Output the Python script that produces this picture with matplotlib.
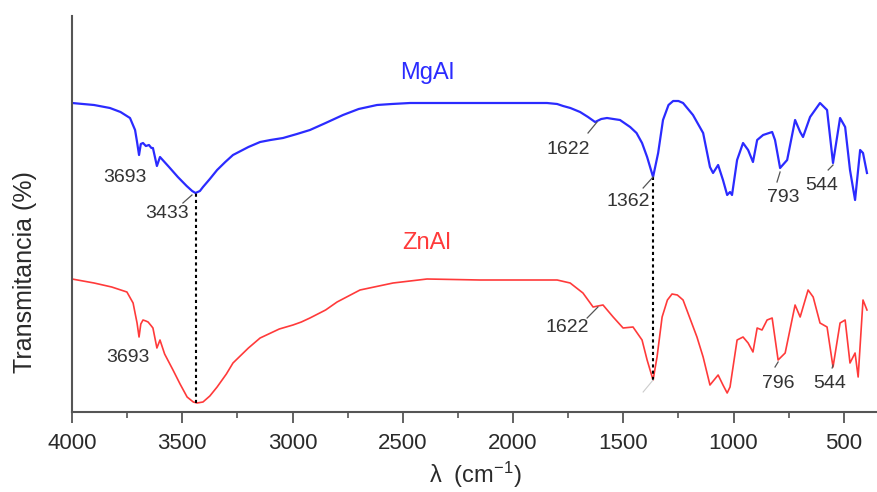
import matplotlib
matplotlib.use("Agg")
import matplotlib.pyplot as plt

plt.rcParams['font.family'] = ['Liberation Sans', 'DejaVu Sans']
plt.rcParams['mathtext.default'] = 'regular'

# ---- data (wavenumber cm-1, transmittance arbitrary units) ----
mg_w = [4000, 3900, 3828, 3780, 3737, 3714, 3705, 3696, 3688, 3678, 3665, 3651, 3640, 3633, 3615,
        3601, 3560, 3520, 3480, 3455, 3440, 3420, 3406, 3375, 3342, 3305, 3270, 3200, 3147, 3100,
        3043, 2980, 2921, 2850, 2771, 2700, 2617, 2550, 2467, 2300, 2150, 2000, 1846, 1800, 1773,
        1740, 1696, 1660, 1628, 1600, 1574, 1545, 1515, 1469, 1440, 1415, 1392, 1365, 1342, 1320,
        1295, 1274, 1250, 1229, 1184, 1138, 1107, 1093, 1070, 1048, 1029, 1016, 1007, 984, 957,
        934, 912, 893, 866, 825, 812, 789, 757, 721, 698, 685, 653, 608, 576, 549, 517, 494, 472,
        449, 426, 413, 395]
mg_t = [309, 307, 304, 300, 294, 282, 270, 257, 268, 269, 266, 267, 264, 264, 246,
        255, 245, 235, 226, 221, 219, 221, 225, 233, 242, 250, 257, 265, 270, 272,
        274, 278, 282, 289, 297, 303, 307, 308, 309, 309, 309, 309, 309, 308, 306,
        304, 300, 295, 290, 293, 294, 293, 292, 285, 279, 269, 255, 235, 259, 292,
        307, 311, 311, 309, 297, 279, 245, 239, 247, 232, 217, 220, 217, 252, 269,
        262, 250, 272, 277, 280, 272, 244, 252, 292, 280, 275, 295, 309, 302, 249, 294, 285, 242,
        212, 262, 259, 239]

zn_w = [4000, 3900, 3820, 3751, 3723, 3705, 3696, 3688, 3678, 3665, 3655, 3640, 3633, 3615,
        3601, 3580, 3542, 3510, 3478, 3450, 3433, 3406, 3375, 3342, 3300, 3270, 3200, 3147, 3060,
        2998, 2960, 2921, 2850, 2798, 2694, 2544, 2390, 2150, 2000, 1800, 1741, 1683, 1637, 1615,
        1592, 1546, 1501, 1456, 1415, 1392, 1365, 1347, 1324, 1300, 1279, 1255, 1229, 1166, 1138,
        1107, 1070, 1048, 1029, 1016, 984, 957, 934, 912, 893, 871, 848, 825, 798, 766, 721, 698,
        662, 639, 608, 576, 549, 517, 494, 472, 449, 435, 413, 395]
zn_t = [133, 129, 125, 120, 109, 89, 75, 88, 92, 91, 90, 86, 84, 64,
        72, 58, 42, 28, 15, 10, 9, 10, 16, 25, 38, 49, 64, 74, 83,
        87, 90, 94, 102, 110, 122, 129, 133, 132, 132, 132, 129, 119, 105, 106,
        107, 95, 84, 85, 72, 52, 32, 55, 95, 112, 118, 117, 112, 75, 55,
        27, 37, 27, 19, 25, 72, 75, 69, 60, 84, 82, 92, 94, 52, 59, 107, 95,
        122, 115, 89, 85, 45, 89, 92, 49, 59, 35, 112, 102]

xticks = [4000, 3500, 3000, 2500, 2000, 1500, 1000, 500]
minor_ticks = [3750, 3250, 2750, 2250, 1750, 1250, 750]

# annotations: (text, text_x, text_y, leader_start, leader_end)
mg_labels = [("3693", 3760, 234, None, None),
             ("3433", 3569, 198, (3497, 209), (3456, 217)),
             ("1622", 1751, 263, (1660, 279), (1619, 290)),
             ("1362", 1478, 210, (1410, 224), (1365, 235)),
             ("793", 776, 215, (803, 230), (789, 240)),
             ("544", 599, 226, (571, 242), (549, 247))]
zn_labels = [("3693", 3746, 55, None, None),
             ("1622", 1755, 84, (1664, 94), (1615, 105)),
             ("796", 798, 29, (812, 45), (798, 50)),
             ("544", 562, 28, (553, 44), (549, 47))]

dash_lines = [(3437, 9, 219), (1365, 32, 235)]

# ---- figure ----
fig = plt.figure(figsize=(8.78, 4.92), dpi=100)
ax = fig.add_axes([72/878, 80/492, 806/878, 396/492])

blue = '#2b2bff'
red = '#ff3a3a'
ax.plot(mg_w, mg_t, color=blue, lw=1.6, solid_joinstyle='round')
ax.plot(zn_w, zn_t, color=red, lw=1.2, solid_joinstyle='round')

for x, y0, y1 in dash_lines:
    ax.plot([x, x], [y0, y1], color='black', lw=1.5, ls=(0, (1.5, 1.5)))

lab_col = '#333333'
for txt, tx, ty, s, e in mg_labels + zn_labels:
    ax.text(tx, ty, txt, ha='center', va='center', fontsize=14, color=lab_col)
    if s is not None:
        ax.plot([s[0], e[0]], [s[1], e[1]], color='#555555', lw=0.9)
# faint leader at ZnAl 1362
ax.plot([1410, 1365], [20, 32], color='#cccccc', lw=0.8)

ax.text(2390, 339, "MgAl", color=blue, fontsize=17, ha='center', va='center')
ax.text(2390, 169, "ZnAl", color=red, fontsize=17, ha='center', va='center')

ax.set_xlim(4000, 345)
ax.set_ylim(0, 396)
ax.set_xticks(xticks)
ax.set_xticks(minor_ticks, minor=True)
ax.set_xticklabels([str(t) for t in xticks])
ax.set_yticks([])

for side in ['top', 'right']:
    ax.spines[side].set_visible(False)
spc = '#555555'
for side in ['left', 'bottom']:
    ax.spines[side].set_color(spc)
    ax.spines[side].set_linewidth(1.5)

ax.tick_params(axis='x', which='major', direction='out', length=8, width=1.3,
               color=spc, labelsize=16, labelcolor='#2a2a2a', pad=7)
ax.tick_params(axis='x', which='minor', direction='out', length=4, width=1.2, color=spc)

ax.set_xlabel(r'λ  (cm$^{-1}$)', fontsize=17, color='#2a2a2a', labelpad=4)
fig.text(25/878, 1 - 272/492, 'Transmitancia (%)', rotation=90, ha='center', va='center',
         fontsize=18, color='#2a2a2a')

fig.savefig('out.png', dpi=100)
